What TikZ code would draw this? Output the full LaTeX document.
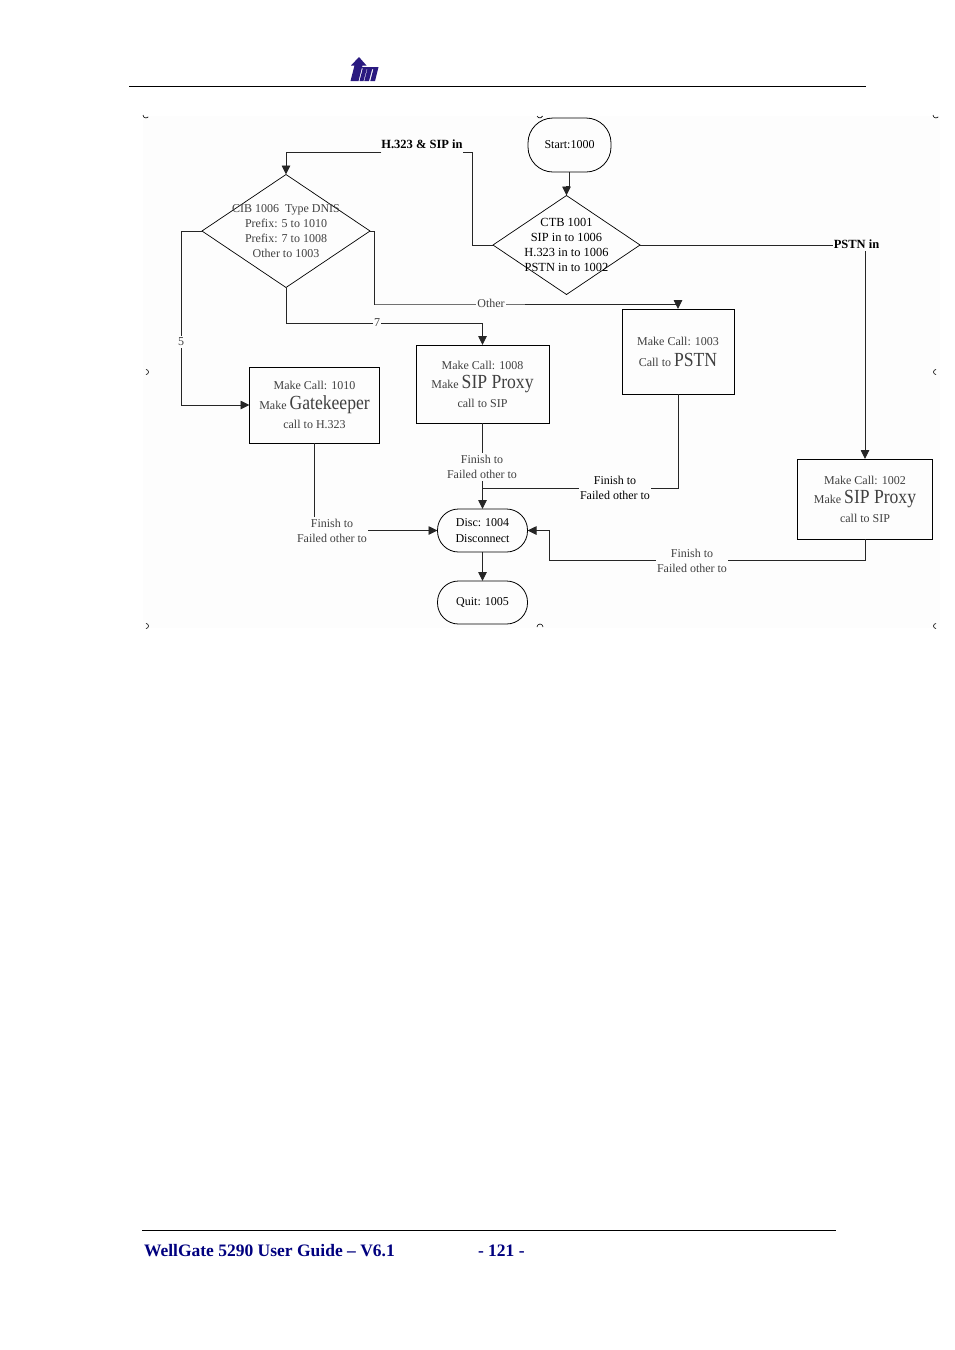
\documentclass[tikz,border=0pt]{standalone}
\usepackage{fontspec}
\setmainfont{Liberation Serif}
\newfontfamily\narrowserif[FakeStretch=0.88]{Liberation Serif}
\usetikzlibrary{arrows.meta,shapes.geometric}
\definecolor{pagebg}{HTML}{FDFDFD}
\definecolor{logoblue}{HTML}{2A1A80}
\definecolor{footblue}{HTML}{00007F}
\definecolor{softtext}{HTML}{404040}
\newcommand{\bigt}[1]{{\narrowserif\fontsize{20}{19}\selectfont #1}}
\tikzset{
  x=1pt,y=-1pt,
  every node/.style={font=\fontsize{12}{15}\selectfont,inner sep=0pt,outer sep=0pt},
  flowbox/.style={draw=black,line width=.8pt,align=center,text=softtext},
  term/.style={draw=black,line width=.8pt,align=center,rounded corners=#1},
  choice/.style={draw=black,line width=.7pt,diamond,aspect=1.5},
  link/.style={draw=black!85,line width=.9pt},
  arrowlink/.style={link,-{Triangle[length=9pt,width=8.5pt]}},
  tag/.style={fill=pagebg,align=center,inner xsep=1pt,inner ysep=2pt},
  softtag/.style={tag,text=softtext},
  boldtag/.style={tag,font=\fontsize{12.5}{15}\bfseries\selectfont},
  handle/.style={draw=black,line width=.6pt},
  foot/.style={text=footblue,font=\fontsize{17.5}{20}\bfseries\selectfont,anchor=base west}
}
\begin{document}
\begin{tikzpicture}
\useasboundingbox (0,0) rectangle (954,1350);
\fill[white] (0,0) rectangle (954,1350);
\fill[pagebg] (143,116) rectangle (940,628);
% header
\draw[black,line width=.8pt] (129,86) -- (866,86);
\fill[logoblue] (359,57) -- (366.5,65.5) -- (362.5,65.5) -- (358.5,81) -- (350.5,81) -- (354.5,65.5) -- (351,65.5) -- cycle;
\fill[logoblue] (362,67) -- (378.5,67) -- (375,81) -- (370.3,81) -- (373.4,69) -- (372.2,69) -- (369,81) -- (364.3,81) -- (367.4,69) -- (366.8,69) -- (363.5,81) -- (359.5,81) -- (362.6,69) -- cycle;
% picture handles
\foreach \hx/\hy in {146/116,936/116}
  \draw[handle] (\hx-3,\hy-1) arc[start angle=180,end angle=320,radius=3pt];
\draw[handle] (537,116) arc[start angle=200,end angle=340,radius=3pt];
\draw[handle] (537,627) arc[start angle=180,end angle=0,radius=3pt];
\foreach \hx/\hy in {146/372,146/626}
  \draw[handle] (\hx,\hy-2.5) arc[start angle=90,end angle=-90,radius=2.5pt];
\foreach \hx/\hy in {936/372,936/626}
  \draw[handle] (\hx,\hy-2.5) arc[start angle=90,end angle=270,radius=2.5pt];
% nodes
\node[term=25pt,minimum width=83pt,minimum height=54pt] (start) at (569.5,145) {Start:1000};
\node[choice,minimum width=147pt,minimum height=99pt,label={[align=center,font=\fontsize{12.4}{15}\selectfont]center:{CTB 1001\\SIP in to 1006\\H.323 in to 1006\\PSTN in to 1002}}] (ctb) at (566.5,245) {};
\node[choice,minimum width=168pt,minimum height=113pt,label={[align=center,text=softtext]center:{CIB 1006\ \ Type DNIS\\Prefix: 5 to 1010\\Prefix: 7 to 1008\\Other to 1003}}] (cib) at (286,231) {};
\node[flowbox,minimum width=130pt,minimum height=76pt,font=\fontsize{12}{19.5}\selectfont] (gk) at (314.5,405) {Make Call: 1010\\Make \bigt{Gatekeeper}\\call to H.323};
\node[flowbox,minimum width=133pt,minimum height=78pt,font=\fontsize{12}{19}\selectfont] (sip) at (482.5,384) {Make Call: 1008\\Make \bigt{SIP Proxy}\\call to SIP};
\node[flowbox,minimum width=112pt,minimum height=85pt,font=\fontsize{12}{21}\selectfont] (pstn) at (678,351.5) {Make Call: 1003\\Call to \bigt{PSTN}};
\node[flowbox,minimum width=135pt,minimum height=80pt,font=\fontsize{12}{19}\selectfont] (sip2) at (865,499) {Make Call: 1002\\Make \bigt{SIP Proxy}\\call to SIP};
\node[term=21pt,minimum width=90pt,minimum height=43pt,font=\fontsize{12}{16}\selectfont] (disc) at (482.5,530.5) {Disc: 1004\\Disconnect};
\node[term=21pt,minimum width=90pt,minimum height=43pt] (quit) at (482.5,602.5) {Quit: 1005};
\node[font=\fontsize{12.5}{15}\bfseries\selectfont] (lh) at (422,144) {H.323 \& SIP in};
% bends
\coordinate (hbar) at (472,152);
\coordinate (fivebar) at (181,405);
\coordinate (otherbar) at (375,304);
\coordinate (sevenbar) at (286,323);
\coordinate (pmerge) at (482.5,488);
\coordinate (sipbar) at (549,560);
% connectors
\draw[arrowlink] (start.south) -- ++(0,14) -| (ctb.north);
\draw[link] (ctb.west) -| (hbar) -- (hbar -| lh.east);
\draw[arrowlink] (hbar -| lh.west) -| (cib.north);
\draw[arrowlink] (ctb.east) -| (sip2.north);
\draw[arrowlink] (cib.west) -| (fivebar) -- (gk.west);
\draw[arrowlink] (cib.east) -- ++(4,0) |- (otherbar) -| (pstn.north);
\draw[arrowlink] (cib.south) |- (sevenbar) -| (sip.north);
\draw[arrowlink] (gk.south) |- (disc.west);
\draw[arrowlink] (sip.south) -- (disc.north);
\draw[link] (pstn.south) |- (pmerge);
\draw[arrowlink] (sip2.south) |- (sipbar) |- (disc.east);
\draw[arrowlink] (disc.south) -- (quit.north);
% connector labels
\node[boldtag] (lp) at (856.5,244.5) {PSTN in};
\node[softtag] (l5) at (181,342) {5};
\node[softtag] (lo) at (491,303.5) {Other};
\node[softtag] (l7) at (377,323) {7};
\node[softtag] (f1) at (332,530.5) {Finish to\\Failed other to};
\node[softtag] (f2) at (482,467) {Finish to\\Failed other to};
\node[tag] (f3) at (615,487.5) {Finish to\\Failed other to};
\node[softtag] (f4) at (692,560.5) {Finish to\\Failed other to};
% footer
\draw[black,line width=.8pt] (142,1230) -- (836,1230);
\node[foot] (ft1) at (144,1256) {WellGate 5290 User Guide – V6.1};
\node[foot] (ft2) at (478,1256) {- 121 -};
\end{tikzpicture}
\end{document}
